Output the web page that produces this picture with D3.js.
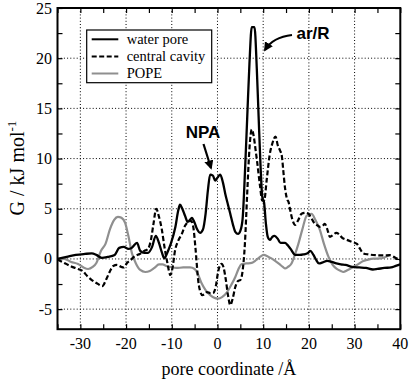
<!DOCTYPE html>
<html><head><meta charset="utf-8">
<script src="https://cdn.jsdelivr.net/npm/d3@7"></script>
<style>
body{margin:0;background:#fff;}
svg{display:block;}
text{font-family:"Liberation Serif","Times New Roman",serif;fill:#000;}
.bold{font-family:"Liberation Sans",Arial,sans-serif;font-weight:bold;}
</style></head>
<body><svg id="c" width="411" height="385"></svg>
<script>
const xTicks = [-30,-20,-10,0,10,20,30,40];
const yTicks = [-5,0,5,10,15,20,25];
const seriesNames = ["water pore","central cavity","POPE"];

const waterX = [-35,-33,-31,-29,-27.5,-26.5,-25.3,-24,-22.5,-21.5,-20.5,-19.5,-18.8,-17.6,-16.9,-16,-15.2,-14.3,-13.5,-12.8,-12.2,-11.6,-11,-10.3,-9.2,-8.6,-8.2,-7.7,-7.1,-6.5,-6.0,-5.6,-5.0,-4.5,-3.8,-3.2,-2.6,-2.1,-1.6,-1.0,-0.5,0.0,0.6,1.2,1.7,2.3,2.8,3.4,3.9,4.5,5.0,5.5,6.0,6.5,7.0,7.5,8.1,8.6,9.0,9.4,9.8,10.2,10.6,11.0,11.5,12.0,12.5,13.2,13.8,14.3,14.8,15.3,16,17,18,18.8,19.8,20.3,21,21.6,22.2,23,24,25,26,27,28,29.5,31,32.5,34,35,36.5,38,39,40];
const waterY = [0.0,0.2,0.4,0.5,0.55,0.4,0.1,0.2,0.4,1.1,1.2,1.0,1.1,1.6,0.8,0.6,0.6,1.2,2.3,1.6,0.7,0.05,0.6,1.4,3.2,4.8,5.4,5.0,4.3,3.7,3.9,4.1,3.6,3.0,2.6,2.9,4.5,6.8,8.4,8.3,7.8,8.1,8.4,7.6,6.5,5.4,4.5,3.4,2.7,2.5,2.8,4.0,8.5,14,19.5,23.1,23.1,19,14.2,9.5,6.2,5.6,3.5,2.2,1.9,2.2,2.3,2.0,1.6,1.6,1.6,1.4,1.0,0.4,0.4,0.45,0.6,0.8,0.4,-0.1,-0.45,-0.35,-0.2,-0.3,-0.45,-0.55,-0.6,-0.8,-0.85,-0.9,-1.05,-1.0,-0.9,-0.85,-0.7,-0.55];

const cavityX = [-35,-33.5,-32,-30.5,-29.5,-28.5,-27.5,-26.3,-25.2,-24.3,-23.5,-22.8,-22,-21,-20.5,-19.8,-19,-18,-17,-16,-15.2,-14.6,-14.0,-13.4,-12.8,-12.2,-11.6,-11.0,-10.3,-9.8,-9.3,-8.6,-7.8,-7.1,-6.4,-5.8,-5.3,-4.8,-4.2,-3.8,-3.3,-2.8,-2.3,-1.6,-1.0,-0.4,0.1,0.5,0.9,1.3,1.8,2.3,2.8,3.3,3.9,4.5,5.0,5.5,6.0,6.5,7.0,7.5,7.9,8.3,8.7,9.3,9.8,10.2,10.8,11.4,12.0,12.7,13.2,13.7,14.1,14.4,14.8,15.2,15.6,15.9,16.4,17.0,17.6,18.4,19.2,19.9,20.5,21.0,21.7,22.4,23.0,23.5,24.0,24.6,25.3,26.0,26.5,27.3,28.3,29.4,30.5,31.2,31.9,33,34.8,36.3,37.7,39,40];
const cavityY = [-0.05,-0.4,-0.75,-1.0,-1.2,-1.7,-2.1,-2.45,-2.7,-2.0,-1.2,-0.7,-0.6,-0.8,-0.85,-0.4,-0.1,0.3,0.5,0.8,1.0,1.8,3.5,5.0,4.2,3.0,1.2,-0.3,-1.6,-0.8,0.8,1.8,2.5,3.3,3.7,3.8,3.2,1.0,-2.2,-3.2,-3.6,-3.5,-3.3,-3.4,-3.4,-2.8,-1.4,-0.7,-0.5,-0.8,-2.0,-3.6,-4.6,-4.0,-2.8,-2.2,-2.1,-1.2,1.5,6.5,11.0,12.9,12.3,11.0,9.6,7.3,5.8,5.8,8.0,10.3,11.5,12.2,11.3,10.8,10.2,8.8,7.0,6.0,5.6,4.9,3.9,3.4,3.8,4.5,4.6,4.5,4.1,3.7,3.4,3.2,3.3,3.5,3.0,2.2,2.4,2.6,2.5,2.1,1.9,1.7,1.5,1.0,0.55,0.45,0.37,0.35,0.37,0.1,-0.1];

const popeX = [-35,-33.5,-32,-30.5,-29.3,-28.3,-27.3,-26.5,-25.5,-24.5,-23.5,-22.6,-21.8,-21.0,-20.2,-19.5,-18.7,-17.9,-16.9,-15.8,-14.8,-13.8,-12.8,-12.0,-11.2,-10.3,-9,-7.5,-6,-5,-4.3,-3.5,-2.6,-1.6,-0.5,0.2,1.0,2.1,3.0,3.9,4.6,5.3,6.3,7.5,8.5,9.3,10.1,11.0,11.8,12.6,13.5,14.3,14.8,15.4,16.2,17.0,17.7,18.6,19.5,20.6,21.4,22.4,23.3,24.3,25.2,26.1,27.0,27.5,28.5,29.7,30.5,31.9,32.7,34.1,35.6,36.5,37.7];
const popeY = [0.0,0.0,-0.3,-0.5,-0.85,-1.0,-0.8,-0.4,0.8,1.5,3.0,3.9,4.2,4.1,3.6,2.3,0.55,-0.4,-1.1,-1.3,-1.2,-0.9,-0.55,-0.55,-0.7,-0.8,-0.9,-0.85,-0.85,-1.0,-1.5,-2.4,-3.1,-3.6,-3.9,-3.95,-3.8,-3.3,-2.6,-1.8,-1.0,-0.5,-0.45,-0.4,-0.1,0.2,0.4,0.25,0.05,-0.2,-0.5,-0.8,-0.95,-0.8,-0.45,0.5,1.5,3.0,4.3,4.5,3.9,2.9,1.5,0.2,-0.6,-1.0,-1.2,-1.3,-1.1,-0.8,-0.6,-0.2,-0.1,0.03,0.05,0.15,0.4];

const svg = d3.select("#c");
const x = d3.scaleLinear().domain([-35,40]).range([57.5,400.3]);
const y = d3.scaleLinear().domain([-7,25]).range([329.2,8]);
const L=x.range()[0], R=x.range()[1], T=y.range()[1], B=y.range()[0];

// grid
const g = svg.append("g");
g.selectAll(".gx").data(xTicks.filter(d=>d>-35&&d<40)).enter().append("line")
 .attr("x1",d=>x(d)).attr("x2",d=>x(d)).attr("y1",T).attr("y2",B)
 .attr("stroke","#000").attr("stroke-width",1).attr("stroke-dasharray","1,2.2");
g.selectAll(".gy").data(yTicks.filter(d=>d>-7&&d<25)).enter().append("line")
 .attr("x1",L).attr("x2",R).attr("y1",d=>y(d)).attr("y2",d=>y(d))
 .attr("stroke","#000").attr("stroke-width",1).attr("stroke-dasharray","1,2.2");

// axes (ticks inward on all sides)
const xt = d3.range(-35,41,5), yt = d3.range(-5,25.1,2.5);
svg.append("g").attr("transform",`translate(0,${B})`)
 .call(d3.axisBottom(x).tickValues(xt).tickSize(-5).tickFormat(""))
 .call(a=>a.select(".domain").remove());
svg.append("g").attr("transform",`translate(0,${T})`)
 .call(d3.axisTop(x).tickValues(xt).tickSize(-5).tickFormat(""))
 .call(a=>a.select(".domain").remove());
svg.append("g").attr("transform",`translate(${L},0)`)
 .call(d3.axisLeft(y).tickValues(yt).tickSize(-5).tickFormat(""))
 .call(a=>a.select(".domain").remove());
svg.append("g").attr("transform",`translate(${R},0)`)
 .call(d3.axisRight(y).tickValues(yt).tickSize(-5).tickFormat(""))
 .call(a=>a.select(".domain").remove());
svg.selectAll(".tick line").attr("stroke","#000").attr("stroke-width",1.2);

// tick labels
svg.selectAll(".xl").data(xTicks).enter().append("text")
 .attr("x",d=>x(d)).attr("y",349).attr("text-anchor","middle")
 .attr("font-size",16).text(d=>d);
svg.selectAll(".yl").data(yTicks).enter().append("text")
 .attr("x",52).attr("y",d=>y(d)+5.5).attr("text-anchor","end")
 .attr("font-size",16).text(d=>d);

// lines
const line = d3.line().x(d=>x(d[0])).y(d=>y(d[1])).curve(d3.curveMonotoneX);
const clip = svg.append("clipPath").attr("id","cp").append("rect")
 .attr("x",L).attr("y",T).attr("width",R-L).attr("height",B-T);
const pl = svg.append("g").attr("clip-path","url(#cp)");
pl.append("path").datum(d3.zip(popeX,popeY)).attr("d",line)
 .attr("fill","none").attr("stroke","#8f8f8f").attr("stroke-width",2.2);
pl.append("path").datum(d3.zip(cavityX,cavityY)).attr("d",line)
 .attr("fill","none").attr("stroke","#000").attr("stroke-width",2.2).attr("stroke-dasharray","5,2.5");
pl.append("path").datum(d3.zip(waterX,waterY)).attr("d",line)
 .attr("fill","none").attr("stroke","#000").attr("stroke-width",2.3).attr("stroke-linejoin","round");

// frame
svg.append("rect").attr("x",L).attr("y",T).attr("width",R-L).attr("height",B-T)
 .attr("fill","none").attr("stroke","#000").attr("stroke-width",2);

// legend
const lg = svg.append("g");
lg.append("rect").attr("x",86.7).attr("y",30).attr("width",125).attr("height",52.7)
 .attr("fill","#fff").attr("stroke","#000").attr("stroke-width",1.2);
const styles=[{c:"#000",d:null},{c:"#000",d:"5,2.5"},{c:"#8f8f8f",d:null}];
seriesNames.forEach((n,i)=>{
  const yy = 39.3 + i*17.1;
  lg.append("line").attr("x1",91.7).attr("x2",118.3).attr("y1",yy).attr("y2",yy)
   .attr("stroke",styles[i].c).attr("stroke-width",2).attr("stroke-dasharray",styles[i].d);
  lg.append("text").attr("x",126.7).attr("y",yy+4.5).attr("font-size",14.5).text(n);
});

// annotations
svg.append("text").attr("class","bold").attr("x",203).attr("y",137.5)
 .attr("text-anchor","middle").attr("font-size",17).text("NPA");
svg.append("text").attr("class","bold").attr("x",313).attr("y",38.5)
 .attr("text-anchor","middle").attr("font-size",17).text("ar/R");
svg.append("defs").append("marker").attr("id","ah").attr("viewBox","0 0 10 10")
 .attr("refX",8).attr("refY",5).attr("markerWidth",4.2).attr("markerHeight",4.2)
 .attr("markerUnits","strokeWidth")
 .attr("orient","auto").append("path").attr("d","M0,0L10,5L0,10z").attr("fill","#000");
svg.append("path").attr("d","M203.5,144 L211,168").attr("stroke","#000").attr("stroke-width",2.2)
 .attr("fill","none").attr("marker-end","url(#ah)");
svg.append("path").attr("d","M292,35 Q273,37 265,50").attr("stroke","#000").attr("stroke-width",2.2)
 .attr("fill","none").attr("marker-end","url(#ah)");

// axis titles
svg.append("text").attr("x",x(2.5)).attr("y",375).attr("text-anchor","middle")
 .attr("font-size",18).text("pore coordinate /Å");
const yl = svg.append("text").attr("transform","translate(24,168) rotate(-90)")
 .attr("text-anchor","middle").attr("font-size",20);
yl.append("tspan").text("G / kJ mol");
yl.append("tspan").attr("font-size",13).attr("dy",-8).text("-1");
</script></body></html>
